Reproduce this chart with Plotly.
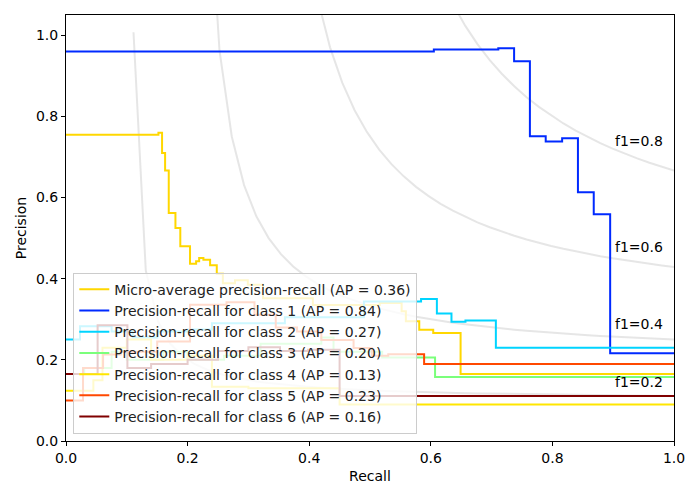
import numpy as np
import plotly.graph_objects as go

# Kurven als (Recall, Precision), gezeichnet als Treppen ("hv")
micro_recall = [0, 0.152, 0.158, 0.163, 0.169, 0.180, 0.188, 0.204, 0.214, 0.219, 0.226,
                0.237, 0.248, 0.258, 0.278, 0.299, 0.324, 0.406, 0.516, 0.552, 0.559,
                0.581, 0.604, 0.649, 1.0]
micro_precision = [0.755, 0.760, 0.710, 0.667, 0.562, 0.525, 0.480, 0.437, 0.443, 0.451,
                   0.447, 0.433, 0.412, 0.389, 0.396, 0.385, 0.352, 0.335, 0.340, 0.320,
                   0.295, 0.274, 0.266, 0.165, 0.165]

c1_recall = [0, 0.605, 0.711, 0.737, 0.763, 0.789, 0.816, 0.842, 0.868, 0.895, 1.0]
c1_precision = [0.960, 0.965, 0.968, 0.936, 0.751, 0.738, 0.746, 0.613, 0.559, 0.216, 0.216]

c2_recall = [0, 0.023, 0.075, 0.11, 0.15, 0.20, 0.24, 0.36, 0.49, 0.584, 0.61, 0.634,
             0.657, 0.707, 1.0]
c2_precision = [0.250, 0.283, 0.270, 0.255, 0.270, 0.275, 0.290, 0.305, 0.344, 0.350,
                0.314, 0.294, 0.297, 0.230, 0.230]

c3_recall = [0, 0.03, 0.075, 0.10, 0.16, 0.20, 0.26, 0.32, 0.42, 0.44, 0.52, 0.607, 1.0]
c3_precision = [0.165, 0.180, 0.220, 0.200, 0.220, 0.200, 0.210, 0.240, 0.255, 0.220,
                0.206, 0.158, 0.158]

c4_recall = [0, 0.045, 0.06, 0.10, 0.14, 0.20, 0.24, 0.30, 0.45, 1.0]
c4_precision = [0.124, 0.150, 0.230, 0.250, 0.200, 0.210, 0.134, 0.130, 0.090, 0.090]

c5_recall = [0, 0.028, 0.061, 0.09, 0.15, 0.204, 0.264, 0.31, 0.345, 0.38, 0.42, 0.473,
             0.503, 0.53, 0.589, 1.0]
c5_precision = [0.100, 0.180, 0.213, 0.220, 0.245, 0.336, 0.342, 0.311, 0.280, 0.270,
                0.249, 0.229, 0.210, 0.214, 0.190, 0.190]

c6_recall = [0, 0.052, 0.101, 0.14, 0.20, 0.25, 0.30, 0.352, 0.398, 0.45, 1.0]
c6_precision = [0.165, 0.285, 0.180, 0.190, 0.200, 0.222, 0.231, 0.222, 0.225, 0.111, 0.111]

ap_micro = 0.36
ap_classes = [0.84, 0.27, 0.20, 0.13, 0.23, 0.16]

f_scores = [0.2, 0.4, 0.6, 0.8]

# Farben wie matplotlib "jet"
colors = ["#002AFF", "#00D4FF", "#7BFF7B", "#FFE600", "#FF4800", "#800000"]

fig = go.Figure()

# Iso-F1-Kurven
for f in f_scores:
    x = np.linspace(0.01, 1)
    with np.errstate(divide="ignore"):
        y = f * x / (2 * x - f)
    mask = y >= 0
    fig.add_trace(go.Scatter(
        x=x[mask], y=y[mask], mode="lines",
        line=dict(color="rgba(128,128,128,0.2)", width=2),
        showlegend=False, hoverinfo="skip",
    ))
    fig.add_annotation(
        x=0.9, y=y[45] + 0.02, text=f"f1={f:0.1f}", showarrow=False,
        xanchor="left", yanchor="bottom", yshift=-5,
        font=dict(size=14, color="black"),
    )

fig.add_trace(go.Scatter(
    x=micro_recall, y=micro_precision, mode="lines", line_shape="hv",
    line=dict(color="#FFD700", width=2),
    name=f"Micro-average precision-recall (AP = {ap_micro:0.2f})",
))

curves = [
    (c1_recall, c1_precision), (c2_recall, c2_precision), (c3_recall, c3_precision),
    (c4_recall, c4_precision), (c5_recall, c5_precision), (c6_recall, c6_precision),
]
for i, (r, p) in enumerate(curves):
    fig.add_trace(go.Scatter(
        x=r, y=p, mode="lines", line_shape="hv",
        line=dict(color=colors[i], width=2),
        name=f"Precision-recall for class {i + 1} (AP = {ap_classes[i]:0.2f})",
    ))

axis_style = dict(
    showgrid=False, zeroline=False, showline=True, mirror=True,
    linecolor="black", linewidth=1, ticks="outside", ticklen=4,
    tickcolor="black", tickformat=".1f", dtick=0.2,
    tickfont=dict(size=14, color="black"),
)
fig.update_xaxes(range=[0, 1],
                 title=dict(text="Recall", font=dict(size=14, color="black"), standoff=6),
                 **axis_style)
fig.update_yaxes(range=[0, 1.05],
                 title=dict(text="Precision", font=dict(size=14, color="black"), standoff=6),
                 **axis_style)

# Seite hat 8px Body-Rand, daher Ränder etwas kleiner
fig.update_layout(
    width=700, height=500,
    margin=dict(l=58, r=34, t=7, b=67, autoexpand=False),
    plot_bgcolor="white", paper_bgcolor="white",
    font=dict(family="DejaVu Sans", size=14, color="black"),
    legend=dict(
        x=0.012, y=0.017, xanchor="left", yanchor="bottom",
        bgcolor="rgba(255,255,255,0.8)", bordercolor="#cccccc", borderwidth=1,
        font=dict(size=14, color="#222222"), itemwidth=30,
    ),
)

fig.write_html("out.html")
